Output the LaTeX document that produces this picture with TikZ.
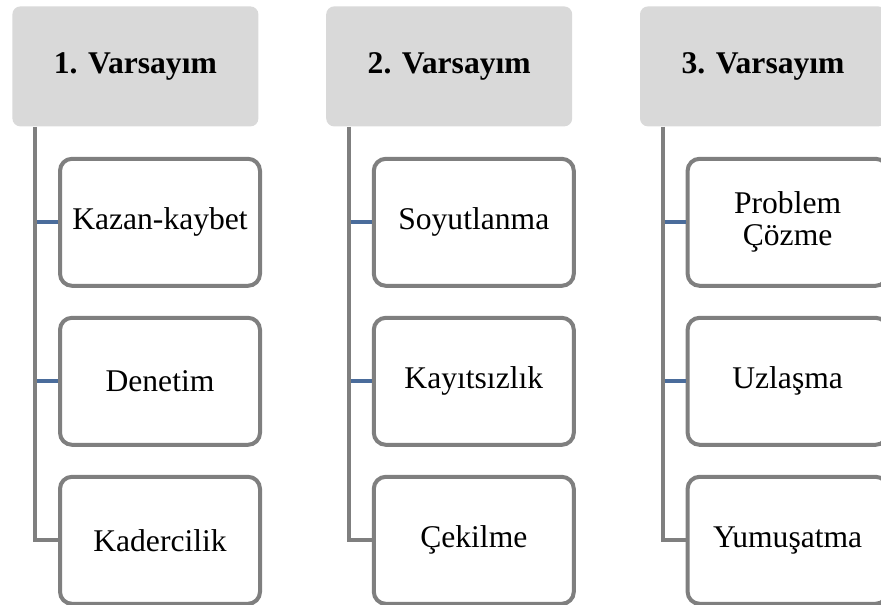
\documentclass[tikz,border=0pt]{standalone}
\usepackage{fontspec}
\setmainfont{Liberation Serif}
\usepackage{xcolor}
\usepackage{tikz}
\usetikzlibrary{positioning, calc}
\definecolor{hdrgray}{HTML}{D9D9D9}
\definecolor{boxgray}{HTML}{7F7F7F}
\definecolor{twigblue}{HTML}{4A6C9B}
\tikzset{
        header/.style={rectangle, fill=hdrgray, rounded corners=4pt, minimum width=123pt, minimum height=60pt, text centered, font=\fontsize{15.8}{16}\selectfont\bfseries},
        item/.style={rectangle, draw=boxgray, line width=2pt, fill=white, rounded corners=6pt, minimum width=100pt, minimum height=63.5pt, align=center},
        trunk/.style={draw=boxgray, line width=2pt},
        twig/.style={draw=twigblue, line width=2pt},
    }
\begin{document}
\begin{tikzpicture}[node distance=14pt and 33.5pt, font=\fontsize{15.8}{16}\selectfont]

        \useasboundingbox (0,0) rectangle (440.5pt,-302pt);
        \clip (0,0) rectangle (440.5pt,-302pt);

        % === HEADERS ===
        \node[header, anchor=north west] (var1) at (6pt,-3pt) {1. Varsayım};
        \node[header, right=of var1] (var2) {2. Varsayım};
        \node[header, right=of var2] (var3) {3. Varsayım};

        % === 1. VARSAYIM ===
        \node[item, anchor=north west] (kazan) at ([xshift=23pt,yshift=-15pt]var1.south west) {Kazan-kaybet};
        \node[item, below=of kazan] (denetim) {Denetim};
        \node[item, below=of denetim] (kader) {Kadercilik};

        \draw[trunk] ([xshift=11.5pt]var1.south west) |- (kader.west);
        \draw[twig] ([xshift=12.5pt]var1.south west |- kazan.west) -- (kazan.west);
        \draw[twig] ([xshift=12.5pt]var1.south west |- denetim.west) -- (denetim.west);

        % === 2. VARSAYIM ===
        \node[item, anchor=north west] (soyut) at ([xshift=23pt,yshift=-15pt]var2.south west) {Soyutlanma};
        \node[item, below=of soyut] (kayit) {Kayıtsızlık};
        \node[item, below=of kayit] (cekil) {Çekilme};

        \draw[trunk] ([xshift=11.5pt]var2.south west) |- (cekil.west);
        \draw[twig] ([xshift=12.5pt]var2.south west |- soyut.west) -- (soyut.west);
        \draw[twig] ([xshift=12.5pt]var2.south west |- kayit.west) -- (kayit.west);

        % === 3. VARSAYIM ===
        % right side runs past the page edge, as in the original
        \node[item, anchor=north west] (problem) at ([xshift=23pt,yshift=-15pt]var3.south west) {Problem\\Çözme};
        \node[item, below=of problem] (uzlas) {Uzlaşma};
        \node[item, below=of uzlas] (yumus) {Yumuşatma};

        \draw[trunk] ([xshift=11.5pt]var3.south west) |- (yumus.west);
        \draw[twig] ([xshift=12.5pt]var3.south west |- problem.west) -- (problem.west);
        \draw[twig] ([xshift=12.5pt]var3.south west |- uzlas.west) -- (uzlas.west);

    \end{tikzpicture}
\end{document}
